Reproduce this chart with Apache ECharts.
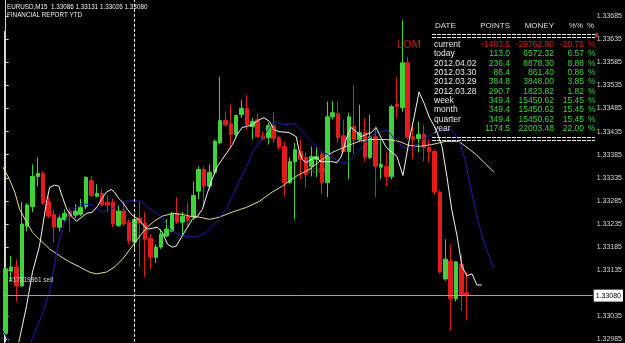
<!DOCTYPE html>
<html>
<head>
<meta charset="utf-8">
<script src="https://cdn.jsdelivr.net/npm/echarts@6/dist/echarts.min.js"></script>
<style>
  html, body { margin: 0; padding: 0; background: #000; }
  #main { width: 625px; height: 343px; }
</style>
</head>
<body>
<div id="main"></div>
<script>
// EURUSD M15 bars, oldest first
var open = [1.32998,1.33133,1.33142,1.33101,1.33230,1.33273,1.33338,1.33345,1.33284,1.33256,
  1.33228,1.33245,1.33263,1.33254,1.33256,1.33273,1.33329,1.33295,1.33301,1.33282,
  1.33282,1.33232,1.33263,1.33239,1.33196,1.33248,1.33237,1.33204,1.33163,1.33185,
  1.33209,1.33219,1.33258,1.33239,1.33252,1.33250,1.33306,1.33353,1.33317,1.33347,
  1.33411,1.33459,1.33452,1.33429,1.33472,1.33485,1.33446,1.33461,1.33426,1.33422,
  1.33448,1.33422,1.33403,1.33325,1.33370,1.33392,1.33379,1.33360,1.33375,1.33386,
  1.33325,1.33467,1.33474,1.33426,1.33392,1.33446,1.33418,1.33433,1.33379,1.33424,
  1.33358,1.33360,1.33338,1.33495,1.33487,1.33584,1.33424,1.33420,1.33429,1.33401,
  1.33392,1.33304,1.33116,1.33155,1.33073,1.33148,1.33086];
var close = [1.33138,1.33142,1.33101,1.33235,1.33276,1.33338,1.33345,1.33280,1.33252,1.33228,
  1.33248,1.33258,1.33252,1.33263,1.33271,1.33336,1.33297,1.33301,1.33276,1.33276,
  1.33235,1.33263,1.33235,1.33198,1.33245,1.33237,1.33202,1.33163,1.33185,1.33213,
  1.33224,1.33256,1.33239,1.33252,1.33243,1.33297,1.33353,1.33317,1.33347,1.33414,
  1.33459,1.33450,1.33429,1.33470,1.33485,1.33450,1.33457,1.33424,1.33420,1.33448,
  1.33420,1.33401,1.33325,1.33370,1.33396,1.33375,1.33342,1.33381,1.33381,1.33325,
  1.33467,1.33476,1.33422,1.33392,1.33467,1.33418,1.33433,1.33379,1.33424,1.33360,
  1.33364,1.33338,1.33489,1.33489,1.33584,1.33422,1.33418,1.33429,1.33401,1.33392,
  1.33304,1.33131,1.33159,1.33073,1.33153,1.33080,1.33080];
var low = [1.32991,1.33110,1.33067,1.33099,1.33219,1.33261,1.33317,1.33276,1.33248,1.33196,
  1.33219,1.33241,1.33217,1.33248,1.33252,1.33267,1.33293,1.33293,1.33273,1.33261,
  1.33228,1.33228,1.33230,1.33191,1.33181,1.33142,1.33120,1.33138,1.33151,1.33181,
  1.33207,1.33217,1.33235,1.33213,1.33230,1.33245,1.33289,1.33273,1.33310,1.33342,
  1.33407,1.33446,1.33401,1.33424,1.33465,1.33439,1.33418,1.33422,1.33416,1.33407,
  1.33411,1.33396,1.33295,1.33321,1.33245,1.33332,1.33314,1.33338,1.33336,1.33299,
  1.33293,1.33461,1.33411,1.33390,1.33332,1.33386,1.33414,1.33370,1.33375,1.33293,
  1.33332,1.33317,1.33332,1.33465,1.33478,1.33418,1.33375,1.33390,1.33370,1.33368,
  1.33299,1.33127,1.33112,1.33004,1.33067,1.33047,1.33026];
var high = [1.33142,1.33166,1.33159,1.33282,1.33280,1.33364,1.33379,1.33349,1.33295,1.33265,
  1.33254,1.33267,1.33271,1.33278,1.33289,1.33338,1.33338,1.33321,1.33312,1.33297,
  1.33289,1.33276,1.33284,1.33245,1.33252,1.33284,1.33261,1.33213,1.33191,1.33224,
  1.33245,1.33261,1.33293,1.33261,1.33282,1.33327,1.33360,1.33360,1.33364,1.33418,
  1.33554,1.33478,1.33493,1.33472,1.33504,1.33515,1.33465,1.33474,1.33435,1.33454,
  1.33476,1.33426,1.33414,1.33379,1.33411,1.33418,1.33390,1.33403,1.33401,1.33392,
  1.33500,1.33500,1.33500,1.33461,1.33476,1.33536,1.33493,1.33465,1.33472,1.33446,
  1.33418,1.33390,1.33493,1.33554,1.33676,1.33597,1.33454,1.33457,1.33450,1.33418,
  1.33396,1.33308,1.33202,1.33191,1.33155,1.33170,1.33131];

// moving averages, [bar index, price] (they run a few bars past the last one)
var whiteMa = [[2.0,1.32960],[2.6,1.32987],[3.9,1.33058],[5.0,1.33131],[6.3,1.33187],[6.9,1.33230],[7.6,1.33282],
  [8.2,1.33314],[9.1,1.33319],[9.9,1.33317],[10.6,1.33293],[11.4,1.33267],[12.3,1.33252],[13.2,1.33241],
  [14.2,1.33250],[15.1,1.33258],[16.2,1.33261],[17.1,1.33273],[17.9,1.33289],[18.8,1.33304],[19.7,1.33310],
  [20.3,1.33304],[20.9,1.33293],[21.8,1.33282],[22.7,1.33267],[23.6,1.33254],[24.8,1.33245],[25.5,1.33235],
  [26.4,1.33224],[27.4,1.33226],[28.3,1.33228],[29.2,1.33217],[30.2,1.33191],[31.1,1.33185],[31.8,1.33187],
  [32.8,1.33207],[33.7,1.33224],[34.8,1.33245],[35.8,1.33252],[36.7,1.33267],[37.6,1.33301],[38.5,1.33332],
  [39.5,1.33360],[40.4,1.33375],[41.3,1.33390],[42.3,1.33407],[43.2,1.33429],[44.1,1.33444],[44.9,1.33446],
  [46.0,1.33450],[47.3,1.33461],[48.2,1.33465],[49.2,1.33457],[50.1,1.33439],[51.0,1.33435],[52.9,1.33433],
  [54.2,1.33424],[54.7,1.33396],[55.3,1.33375],[56.1,1.33368],[57.0,1.33375],[57.9,1.33379],[58.8,1.33370],
  [60.9,1.33370],[61.8,1.33368],[62.6,1.33381],[63.5,1.33418],[64.4,1.33444],[65.4,1.33435],[66.3,1.33424],
  [67.2,1.33429],[68.2,1.33433],[69.1,1.33444],[70.0,1.33422],[71.0,1.33401],[72.1,1.33390],[73.0,1.33381],
  [74.1,1.33340],[75.3,1.33418],[76.2,1.33467],[77.1,1.33521],[78.0,1.33498],[79.0,1.33467],[80.3,1.33439],
  [81.4,1.33403],[82.3,1.33338],[83.2,1.33267],[84.2,1.33209],[85.1,1.33144],[86.0,1.33123],[87.0,1.33127],
  [87.9,1.33103],[88.8,1.33103]];
var blueMa = [[-0.5,1.33004],[1.0,1.32970],[2.5,1.32948],[4.0,1.32961],[5.0,1.32987],[7.0,1.33045],[8.2,1.33088],
  [9.1,1.33144],[9.7,1.33187],[10.4,1.33217],[11.0,1.33239],[11.5,1.33252],[12.5,1.33267],[13.8,1.33276],
  [15.1,1.33278],[16.2,1.33276],[17.1,1.33267],[18.1,1.33261],[19.4,1.33265],[20.7,1.33273],[21.8,1.33282],
  [23.5,1.33286],[24.4,1.33286],[25.5,1.33282],[26.8,1.33269],[28.3,1.33258],[29.2,1.33248],[30.2,1.33232],
  [31.1,1.33219],[32.8,1.33211],[34.3,1.33207],[35.7,1.33207],[37.4,1.33217],[38.6,1.33230],[39.9,1.33248],
  [41.2,1.33269],[42.1,1.33291],[43.0,1.33312],[43.9,1.33336],[45.0,1.33360],[46.0,1.33390],[47.3,1.33411],
  [48.6,1.33433],[49.5,1.33450],[50.1,1.33457],[50.7,1.33454],[52.0,1.33450],[53.3,1.33452],[54.2,1.33450],
  [55.1,1.33439],[56.1,1.33424],[57.2,1.33411],[58.1,1.33401],[59.0,1.33392],[60.0,1.33386],[60.9,1.33379],
  [61.8,1.33373],[62.8,1.33368],[63.7,1.33368],[64.6,1.33379],[65.6,1.33390],[66.5,1.33403],[67.4,1.33418],
  [68.4,1.33426],[69.3,1.33433],[70.2,1.33435],[71.1,1.33439],[71.9,1.33429],[72.8,1.33414],[73.7,1.33407],
  [74.3,1.33401],[75.6,1.33396],[77.8,1.33418],[79.7,1.33431],[81.7,1.33439],[83.2,1.33439],[84.5,1.33418],
  [85.7,1.33375],[86.8,1.33310],[87.9,1.33252],[89.2,1.33196],[90.5,1.33155],[91.1,1.33138]];
var yellowMa = [[-0.5,1.33358],[0.7,1.33332],[1.7,1.33304],[2.6,1.33267],[3.9,1.33239],[5.0,1.33217],[6.3,1.33202],
  [8.2,1.33181],[10.1,1.33166],[11.9,1.33153],[13.8,1.33142],[15.6,1.33131],[16.9,1.33127],[18.8,1.33131],
  [20.3,1.33142],[21.8,1.33159],[23.5,1.33185],[25.0,1.33209],[26.4,1.33228],[27.7,1.33241],[29.2,1.33252],
  [31.1,1.33258],[33.0,1.33256],[34.3,1.33252],[36.1,1.33250],[38.0,1.33245],[39.9,1.33250],[42.3,1.33261],
  [44.9,1.33271],[47.3,1.33284],[49.7,1.33304],[51.6,1.33317],[53.4,1.33332],[54.7,1.33342],[56.6,1.33353],
  [58.5,1.33370],[60.9,1.33390],[63.5,1.33403],[65.9,1.33414],[67.8,1.33418],[71.0,1.33418],[73.4,1.33414],
  [75.2,1.33405],[77.1,1.33403],[79.5,1.33407],[82.1,1.33414],[84.5,1.33414],[85.8,1.33403],[87.7,1.33386],
  [89.6,1.33364],[91.1,1.33347]];

var bid = 1.33080;
var separatorBar = 23.9;
var priceTicks = ['1.32985','1.33035','1.33135','1.33185','1.33235','1.33285','1.33335','1.33385',
  '1.33435','1.33485','1.33535','1.33585','1.33635','1.33685'];

// report table
var reportRows = ['current','today','2012.04.02','2012.03.30','2012.03.29','2012.03.28','week','month','quarter','year'];
var reportPoints = [-1403.5,113.0,236.4,86.4,384.8,290.7,349.4,349.4,349.4,1174.5];
var reportMoney = [-29762.80,6572.32,8878.30,861.40,3848.00,1823.82,15450.62,15450.62,15450.62,22003.48];
var reportPct = [-29.76,6.57,8.88,0.86,3.85,1.82,15.45,15.45,15.45,22.00];

var SLOTS = 110;
var slots = [];
for (var s = 0; s < SLOTS; s++) slots.push(String(s));

var bars = [];
for (var i = 0; i < open.length; i++) bars.push([open[i], close[i], low[i], high[i]]);

var FONT = '"Liberation Sans", Arial, sans-serif';
var GREEN = '#3fd33a', RED = '#e41b1b';

function txt(str, x, y, fill, size, align) {
  return {
    type: 'text', x: x, y: y, z: 100,
    style: { text: str, fill: fill, font: size + 'px ' + FONT,
      align: align || 'left', textAlign: align || 'left',
      verticalAlign: 'middle', textVerticalAlign: 'middle' }
  };
}
function dline(x1, x2, y) {
  return { type: 'line', z: 100, shape: { x1: x1, y1: y, x2: x2, y2: y },
    style: { stroke: '#e6e6e6', lineWidth: 1, lineDash: [4, 1] } };
}

var g = [];
// chart header
g.push(txt('EURUSD,M15  1.33086 1.33131 1.33026 1.33080', 7, 7, '#f0f0f0', 6.3));
g.push(txt('FINANCIAL REPORT YTD', 7, 15.5, '#f0f0f0', 6.3));
g.push({ type: 'line', shape: { x1: 4.5, y1: 31, x2: 4.5, y2: 343 }, style: { stroke: '#dcdcdc', lineWidth: 1 } });
g.push(txt('#17319361 sell', 9, 280, '#d8d8d8', 6.5));
g.push(txt('LOM', 397, 45, '#c81818', 11));
g.push({ type: 'text', x: 308, y: 171, z: 1,
  style: { text: 'LOM', fill: 'rgba(190,120,40,0.75)', font: '8px ' + FONT, verticalAlign: 'middle', textVerticalAlign: 'middle' } });
g.push({ type: 'rect', z: 100, shape: { x: 595, y: 33, width: 3, height: 4 }, style: { fill: '#e41b1b' } });

// table
var hdr = '#dedede';
g.push(txt('DATE', 435, 26, hdr, 8));
g.push(txt('POINTS', 510, 26, hdr, 8, 'right'));
g.push(txt('MONEY', 554, 26, hdr, 8, 'right'));
g.push(txt('%%', 583, 26, hdr, 8, 'right'));
g.push(txt('%', 587, 26, hdr, 8));
g.push(dline(432, 595, 34.5), dline(432, 595, 37.5));
for (var r = 0; r < reportRows.length; r++) {
  var y = 44.7 + r * 9.33;
  var c = reportPoints[r] < 0 ? '#d42020' : GREEN;
  g.push(txt(reportRows[r], 434, y, '#e8e8e8', 8.5));
  g.push(txt(reportPoints[r].toFixed(1), 510, y, c, 8.5, 'right'));
  g.push(txt(reportMoney[r].toFixed(2), 554, y, c, 8.5, 'right'));
  g.push(txt(reportPct[r].toFixed(2), 584, y, c, 8.5, 'right'));
  g.push(txt('%', 588, y, c, 8.5));
}
g.push(dline(432, 595, 137.5), dline(432, 595, 140.5));

var chart = echarts.init(document.getElementById('main'));
chart.setOption({
  backgroundColor: '#000',
  animation: false,
  grid: { left: 3, right: 29, top: 0, bottom: 0 },
  xAxis: [
    { type: 'category', data: slots, boundaryGap: true, show: false },
    { type: 'value', min: -0.5, max: SLOTS - 0.5, show: false }
  ],
  yAxis: {
    type: 'value', position: 'right', min: 1.32980, max: 1.33720, scale: true,
    splitLine: { show: false },
    axisLine: { show: true, lineStyle: { color: '#cfcfcf', width: 1 } },
    axisTick: { show: true, inside: false, length: 3, lineStyle: { color: '#cfcfcf' },
      customValues: priceTicks.map(Number) },
    axisLabel: { color: '#d6d6d6', fontSize: 7, fontFamily: FONT, margin: 4,
      customValues: priceTicks.map(Number), formatter: function (v) { return v.toFixed(5); } }
  },
  series: [
    {
      type: 'candlestick', xAxisIndex: 0, data: bars, barWidth: 4,
      itemStyle: { color: GREEN, color0: RED, borderColor: GREEN, borderColor0: RED, borderWidth: 1 }
    },
    {
      type: 'line', xAxisIndex: 1, data: yellowMa, symbol: 'none',
      lineStyle: { color: '#e6dc9a', width: 1 },
      markLine: {
        silent: true, symbol: ['none', 'none'], animation: false, precision: 5,
        lineStyle: { color: '#a0a0a0', width: 1, type: 'solid' },
        label: { show: true, position: 'end', distance: 1, formatter: bid.toFixed(5),
          backgroundColor: '#fff', color: '#000', fontSize: 7, fontFamily: FONT, padding: [3, 2, 2, 2] },
        data: [{ yAxis: bid }]
      }
    },
    {
      type: 'line', xAxisIndex: 1, data: blueMa, symbol: 'none',
      lineStyle: { color: '#1e1eaa', width: 1 }
    },
    {
      type: 'line', xAxisIndex: 1, data: whiteMa, symbol: 'none',
      lineStyle: { color: '#f4f4f4', width: 1 },
      markLine: {
        silent: true, symbol: ['none', 'none'], animation: false, precision: 2, label: { show: false },
        lineStyle: { color: '#ffffff', width: 1, type: [3, 2] },
        data: [{ xAxis: separatorBar }]
      }
    }
  ],
  graphic: g
});
</script>
</body>
</html>
